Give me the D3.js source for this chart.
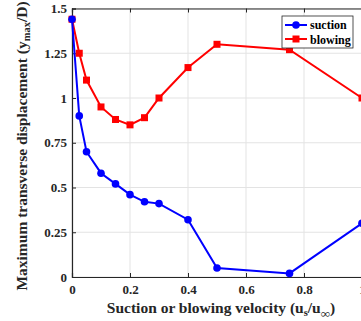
<!DOCTYPE html>
<html><head><meta charset="utf-8">
<script src="https://cdn.jsdelivr.net/npm/d3@7"></script>
<style>body{margin:0;background:#fff}svg{display:block}text{font-family:"Liberation Serif","Times New Roman",serif;font-weight:bold}</style>
</head><body><svg id="c" width="361" height="321"></svg>
<script>
const xVals = [0, 0.025, 0.05, 0.1, 0.15, 0.2, 0.25, 0.3, 0.4, 0.5, 0.75, 1.0];
const suction = [1.44, 0.90, 0.70, 0.58, 0.52, 0.46, 0.42, 0.41, 0.32, 0.05, 0.02, 0.30];
const blowing = [1.44, 1.25, 1.10, 0.95, 0.88, 0.85, 0.89, 1.00, 1.17, 1.30, 1.27, 1.00];
const xTicks = [0, 0.2, 0.4, 0.6, 0.8, 1];
const yTicks = [0, 0.25, 0.5, 0.75, 1, 1.25, 1.5];
const yTickLabels = ["0", "0.25", "0.5", "0.75", "1", "1.25", "1.5"];

const svg = d3.select("#c");
const L = 72, R = 362, T = 8.5, B = 277;
const x = d3.scaleLinear().domain([0, 1]).range([L, R]);
const y = d3.scaleLinear().domain([0, 1.5]).range([B, T]);

// grid
const g = svg.append("g");
g.selectAll(".gx").data(xTicks).enter().append("line")
  .attr("x1", d => x(d)).attr("x2", d => x(d)).attr("y1", T).attr("y2", B)
  .attr("stroke", "#e3e3e3").attr("stroke-width", 1);
g.selectAll(".gy").data(yTicks).enter().append("line")
  .attr("x1", L).attr("x2", R).attr("y1", d => y(d)).attr("y2", d => y(d))
  .attr("stroke", "#e3e3e3").attr("stroke-width", 1);

// axes
const xa = svg.append("g").attr("transform", `translate(0,${B})`)
  .call(d3.axisBottom(x).tickValues(xTicks).tickSize(-4).tickPadding(8).tickFormat(d => d3.format("")(d)));
const xt = svg.append("g").attr("transform", `translate(0,${T})`)
  .call(d3.axisTop(x).tickValues(xTicks).tickSize(-4).tickFormat(""));
const ya = svg.append("g").attr("transform", `translate(${L},0)`)
  .call(d3.axisLeft(y).tickValues(yTicks).tickSize(-4).tickPadding(5).tickFormat((d, i) => yTickLabels[i]));
[xa, xt, ya].forEach(a => {
  a.selectAll("path").attr("stroke", "#262626").attr("stroke-width", 1.2);
  a.selectAll("line").attr("stroke", "#262626");
  a.selectAll("text").attr("font-size", 13).attr("fill", "#262626")
    .attr("font-family", '"Liberation Serif",serif').attr("font-weight", "bold");
});

const line = d3.line().x((d, i) => x(xVals[i])).y(d => y(d));
svg.append("path").datum(blowing).attr("d", line).attr("fill", "none").attr("stroke", "#ff0000").attr("stroke-width", 2);
svg.append("path").datum(suction).attr("d", line).attr("fill", "none").attr("stroke", "#0000ff").attr("stroke-width", 2);
svg.selectAll(".sq").data(blowing).enter().append("rect")
  .attr("x", (d, i) => x(xVals[i]) - 3.5).attr("y", d => y(d) - 3.5)
  .attr("width", 7).attr("height", 7).attr("fill", "#ff0000");
svg.selectAll(".ci").data(suction).enter().append("circle")
  .attr("cx", (d, i) => x(xVals[i])).attr("cy", d => y(d)).attr("r", 3.8).attr("fill", "#0000ff");

// legend
const lg = svg.append("g");
lg.append("rect").attr("x", 282).attr("y", 16).attr("width", 71).attr("height", 32)
  .attr("fill", "#fff").attr("stroke", "#262626").attr("stroke-width", 0.8);
lg.append("line").attr("x1", 285).attr("x2", 307).attr("y1", 25).attr("y2", 25).attr("stroke", "#0000ff").attr("stroke-width", 2);
lg.append("circle").attr("cx", 296).attr("cy", 25).attr("r", 3.8).attr("fill", "#0000ff");
lg.append("line").attr("x1", 285).attr("x2", 307).attr("y1", 39).attr("y2", 39).attr("stroke", "#ff0000").attr("stroke-width", 2);
lg.append("rect").attr("x", 292.5).attr("y", 35.5).attr("width", 7).attr("height", 7).attr("fill", "#ff0000");
lg.append("text").attr("x", 310).attr("y", 29).attr("font-size", 12).text("suction");
lg.append("text").attr("x", 310).attr("y", 43.5).attr("font-size", 12).text("blowing");

// axis titles
const xl = svg.append("text").attr("x", 221).attr("y", 313).attr("text-anchor", "middle").attr("font-size", 15.5).attr("fill", "#262626");
xl.append("tspan").text("Suction or blowing velocity (u");
xl.append("tspan").attr("font-size", 10.5).attr("dy", 3).text("s");
xl.append("tspan").attr("dy", -3).text("/u");
xl.append("tspan").attr("font-size", 13).attr("dy", 5).text("∞");
xl.append("tspan").attr("dy", -5).text(")");

const yl = svg.append("text").attr("transform", "translate(27,146) rotate(-90)").attr("text-anchor", "middle").attr("font-size", 15.5).attr("fill", "#262626");
yl.append("tspan").text("Maximum transverse displacement (y");
yl.append("tspan").attr("font-size", 10.5).attr("dy", 3).text("max");
yl.append("tspan").attr("dy", -3).text("/D)");
</script></body></html>
